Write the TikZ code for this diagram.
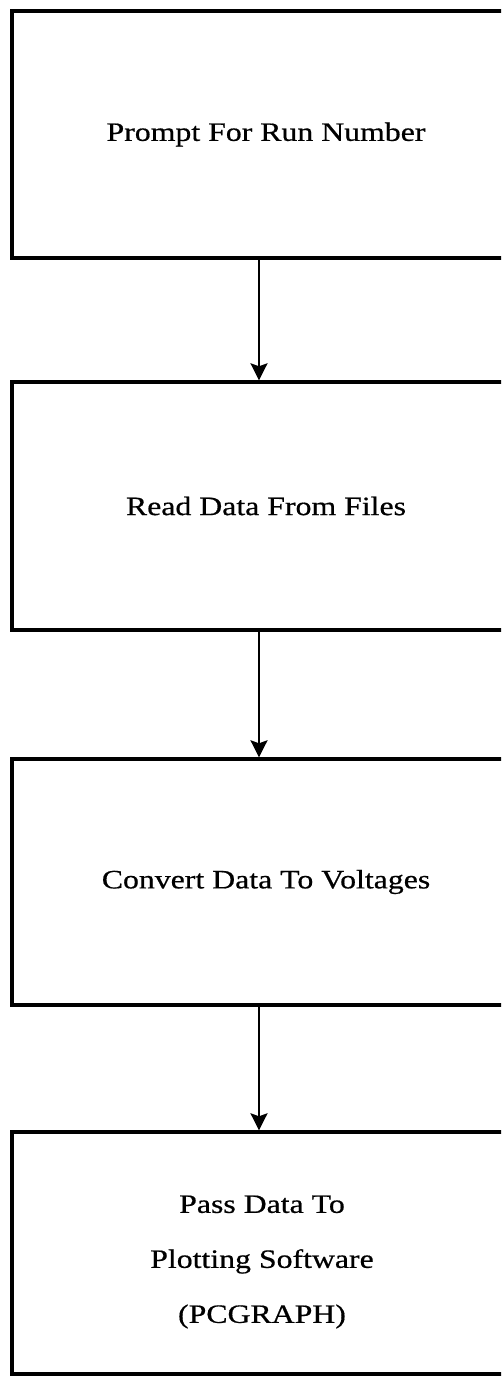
\documentclass[tikz,border=0pt]{standalone}
\usepackage{fontspec}
\setmainfont{Liberation Serif}[FakeStretch=1.2,FakeBold=0.6]
\usetikzlibrary{arrows.meta}

\begin{document}
\begin{tikzpicture}[x=1pt,y=-1pt,
  stepbox/.style={draw, line width=3.4pt, rectangle, minimum width=508pt,
    inner sep=0pt, align=center, font=\fontsize{26.5}{55}\selectfont},
  flow/.style={line width=2.4pt, -{Stealth[length=17pt,width=17pt,inset=3pt]}}]
  \useasboundingbox (0,0) rectangle (501,1376);
  \clip (0,0) rectangle (501,1376);

  % process boxes, top to bottom
  \node[stepbox, minimum height=247pt] (prompt) at (266,134.5) {Prompt For Run Number};
  \node[stepbox, minimum height=248pt] (read)   at (266,506)   {Read Data From Files};
  \node[stepbox, minimum height=246pt] (conv)   at (266,882)   {Convert Data To Voltages};
  \node[stepbox, minimum height=242pt] (pass)   at (266,1253)  {};
  \node[align=center, font=\fontsize{26.5}{55}\selectfont] (passtxt) at (262,1262)
    {Pass Data To\\Plotting Software\\(PCGRAPH)};

  % connectors between consecutive steps
  \draw[flow] ([xshift=-7pt]prompt.south) -- ([xshift=-7pt]read.north);
  \draw[flow] ([xshift=-7pt]read.south)   -- ([xshift=-7pt]conv.north);
  \draw[flow] ([xshift=-7pt]conv.south)   -- ([xshift=-7pt]pass.north);
\end{tikzpicture}
\end{document}
